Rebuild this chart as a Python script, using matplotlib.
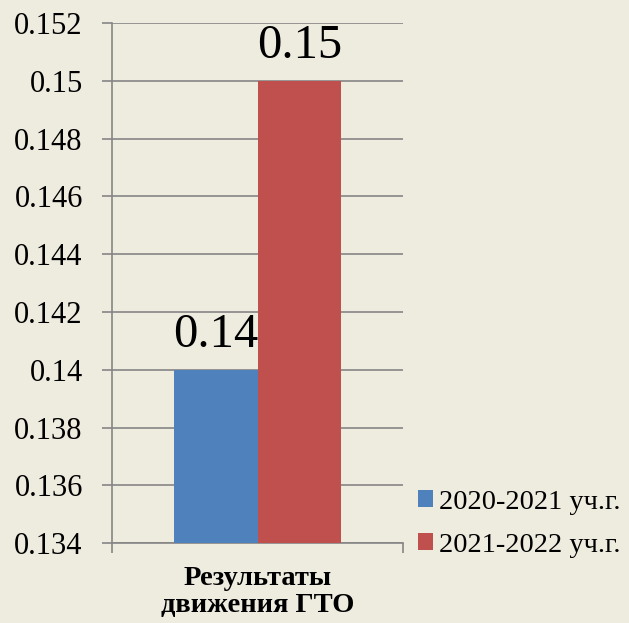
import matplotlib.pyplot as plt

# chart data
category = "Результаты\nдвижения ГТО"
series = ["2020-2021 уч.г.", "2021-2022 уч.г."]
values = [0.14, 0.15]
colors = ["#4f81bd", "#c0504d"]
yticks = [0.134, 0.136, 0.138, 0.140, 0.142, 0.144, 0.146, 0.148, 0.150, 0.152]
ytick_labels = ["0.134", "0.136", "0.138", "0.14", "0.142", "0.144", "0.146", "0.148", "0.15", "0.152"]

plt.rcParams['font.family'] = 'serif'
plt.rcParams['font.serif'] = ['Liberation Serif', 'Times New Roman', 'DejaVu Serif']

fig = plt.figure(figsize=(6.29, 6.23), dpi=100)
fig.patch.set_facecolor('#eeebdf')
ax = fig.add_axes([0.178, 0.128, 0.463, 0.835])
ax.set_facecolor('none')

width = 0.287
offsets = [-width / 2, width / 2]
for off, v, c, lab in zip(offsets, values, colors, series):
    ax.bar(off, v - yticks[0], width, bottom=yticks[0], color=c, label=lab, zorder=3)
    ax.text(off, v + 0.0008, f"{v:g}", ha='center', va='baseline', fontsize=35, zorder=4)

ax.set_xlim(-0.5, 0.5)
ax.set_ylim(yticks[0], yticks[-1])
ax.set_yticks(yticks)
ax.set_yticklabels(ytick_labels, fontsize=22)
ax.set_xticks([-0.5, 0.5])
ax.set_xticklabels(["", ""])
ax.tick_params(axis='y', length=7, width=1.2, color='#868686', pad=14)
ax.tick_params(axis='x', length=7, width=1.2, color='#868686')
ax.yaxis.grid(True, color='#868686', linewidth=1.2, zorder=0)
for s in ['top', 'right']:
    ax.spines[s].set_visible(False)
for s in ['left', 'bottom']:
    ax.spines[s].set_color('#868686')
    ax.spines[s].set_linewidth(1.2)

ax.text(0.5, -0.043, category, transform=ax.transAxes, ha='center', va='top',
        fontsize=20.5, fontweight='bold', linespacing=1.15)

fig.legend(loc='lower left', bbox_to_anchor=(0.664, 0.105), frameon=False,
           fontsize=20.5, handlelength=0.53, handleheight=0.53, handletextpad=0.22,
           labelspacing=0.62, borderpad=0, borderaxespad=0)

fig.savefig('out.png', dpi=100, facecolor=fig.get_facecolor())
